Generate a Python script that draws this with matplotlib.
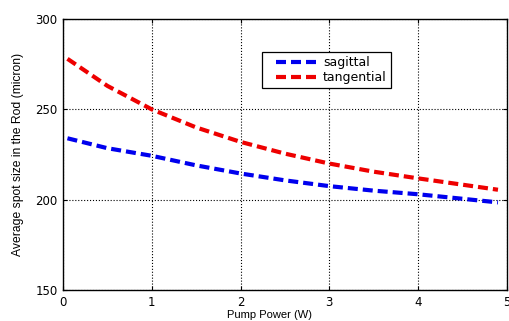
import matplotlib
matplotlib.use("Agg")
import matplotlib.pyplot as plt
import numpy as np

plt.rcParams['font.family'] = ['DejaVu Sans']

power = [0.05, 0.5, 1.0, 1.5, 2.0, 2.5, 3.0, 3.5, 4.0, 4.5, 4.9]
sagittal = [234.0, 228.5, 224.3, 219.0, 214.5, 210.7, 207.5, 205.0, 203.0, 200.5, 198.5]
tangential = [278.0, 263.0, 250.0, 240.0, 232.0, 225.5, 220.0, 215.5, 211.8, 208.3, 205.5]
xticks = [0, 1, 2, 3, 4, 5]
yticks = [150, 200, 250, 300]

fig = plt.figure(figsize=(5.09, 3.21), dpi=100)
ax = fig.add_axes([0.1238, 0.0966, 0.872, 0.844])

dash = (0, (2.4, 1.2))
ax.plot(power, sagittal, color='#0000ee', lw=3, ls=dash, label='sagittal')
ax.plot(power, tangential, color='#ee0000', lw=3, ls=dash, label='tangential')

ax.set_xlim(0, 5)
ax.set_ylim(150, 300)
ax.set_xticks(xticks)
ax.set_yticks(yticks)
ax.grid(True, color='black', ls=':', lw=0.8)
ax.tick_params(direction='in', labelsize=8.5, length=3, top=True, right=True)
ax.tick_params(axis='y', pad=4)
ax.tick_params(axis='x', pad=4)
for s in ax.spines.values():
    s.set_linewidth(1.0)

ax.set_xlabel('Pump Power (W)', fontsize=8, labelpad=-0.5, family='Liberation Sans')
ax.xaxis.set_label_coords(0.466, -0.075)
ax.set_ylabel('Average spot size in the Rod (micron)', fontsize=8.7, labelpad=8,
              family='Liberation Sans')

leg = ax.legend(loc='upper left', bbox_to_anchor=(0.449, 0.879), fontsize=9,
                fancybox=False, framealpha=1, edgecolor='black',
                handlelength=4.2, handletextpad=0.3, borderpad=0.35,
                labelspacing=0.15, borderaxespad=0)
leg.get_frame().set_linewidth(0.9)
for ln in leg.get_lines():
    xd = np.asarray(ln.get_xdata(), dtype=float)
    yd = np.asarray(ln.get_ydata(), dtype=float)
    ln.set_data([xd[0] + 7.0, xd[-1]], [yd[0], yd[-1]])

fig.savefig('out.png', dpi=100)
